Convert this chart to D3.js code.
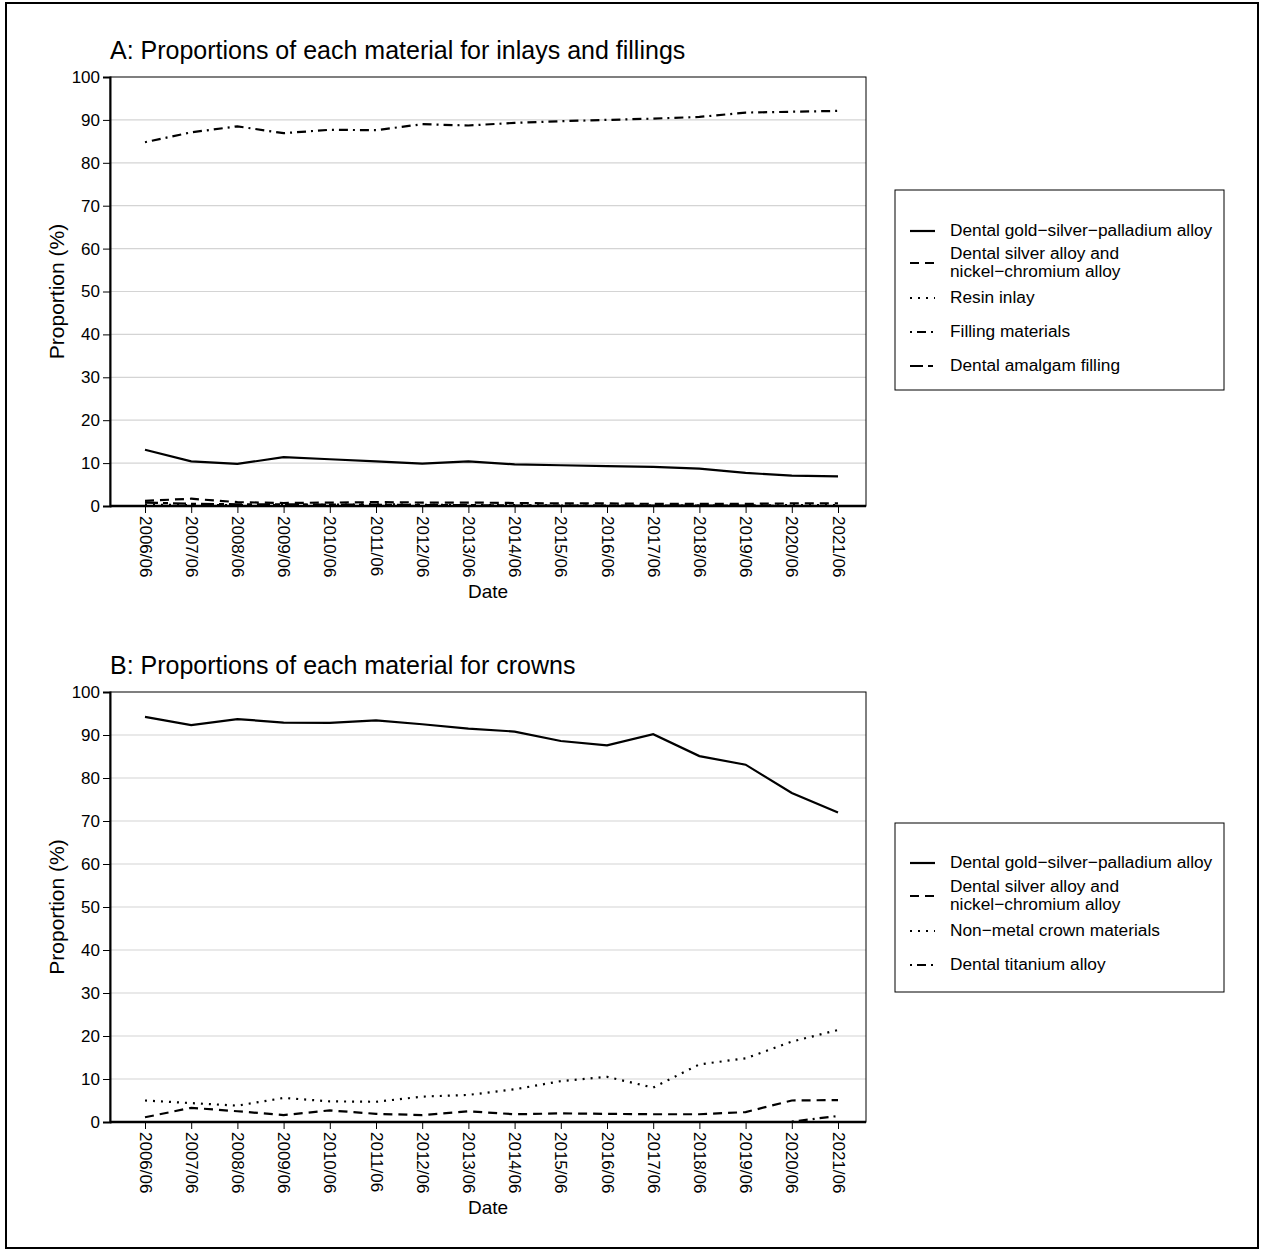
<!DOCTYPE html>
<html>
<head>
<meta charset="utf-8">
<script src="https://cdn.jsdelivr.net/npm/d3@7"></script>
<style>
  body { margin: 0; background: #fff; }
  svg { display: block; font-family: "Liberation Sans", Arial, Helvetica, sans-serif; }
</style>
</head>
<body>
<svg id="chart" width="1266" height="1255"></svg>
<script>
// tick labels
const dates = ["2006/06","2007/06","2008/06","2009/06","2010/06","2011/06","2012/06","2013/06",
               "2014/06","2015/06","2016/06","2017/06","2018/06","2019/06","2020/06","2021/06"];
const yTicks = [0,10,20,30,40,50,60,70,80,90,100];

// panel A: inlays and fillings (%)
const inlayGoldSilverPalladium = [13.1,10.4,9.8,11.4,10.9,10.4,9.9,10.4,9.7,9.5,9.3,9.1,8.7,7.7,7.1,6.9];
const inlaySilverNiCr         = [1.2,1.7,0.9,0.7,0.8,0.9,0.8,0.8,0.7,0.6,0.6,0.5,0.5,0.5,0.6,0.6];
const resinInlay              = [0.3,0.2,0.2,0.2,0.3,0.4,0.3,0.2,0.2,0.1,0.1,0.1,0.1,0.1,0.2,0.2];
const fillingMaterials        = [84.8,87.1,88.5,86.9,87.7,87.6,89.0,88.7,89.3,89.7,90.0,90.3,90.7,91.7,91.9,92.1];
const amalgamFilling          = [0.8,0.5,0.4,0.4,0.3,0.3,0.2,0.2,0.1,0.1,0.1,0.1,0.1,0.1,0.0,0.0];

// panel B: crowns (%)
const crownGoldSilverPalladium = [94.2,92.3,93.7,92.9,92.8,93.4,92.5,91.5,90.8,88.6,87.6,90.2,85.1,83.1,76.5,72.0];
const crownSilverNiCr          = [1.1,3.3,2.5,1.6,2.7,1.9,1.6,2.5,1.8,2.0,1.9,1.8,1.8,2.3,5.0,5.1];
const nonMetalCrown            = [5.0,4.4,3.8,5.6,4.8,4.7,5.9,6.3,7.6,9.5,10.5,8.0,13.4,14.8,18.7,21.4];
const titaniumAlloy            = [null,null,null,null,null,null,null,null,null,null,null,null,null,null,0.1,1.4];

const seriesA = [
  {name: "Dental gold\u2212silver\u2212palladium alloy", values: inlayGoldSilverPalladium, style: "solid"},
  {name: "Dental silver alloy and\nnickel\u2212chromium alloy", values: inlaySilverNiCr, style: "dashed"},
  {name: "Resin inlay", values: resinInlay, style: "dotted"},
  {name: "Filling materials", values: fillingMaterials, style: "dotdash"},
  {name: "Dental amalgam filling", values: amalgamFilling, style: "longdash"}
];
const seriesB = [
  {name: "Dental gold\u2212silver\u2212palladium alloy", values: crownGoldSilverPalladium, style: "solid"},
  {name: "Dental silver alloy and\nnickel\u2212chromium alloy", values: crownSilverNiCr, style: "dashed"},
  {name: "Non\u2212metal crown materials", values: nonMetalCrown, style: "dotted"},
  {name: "Dental titanium alloy", values: titaniumAlloy, style: "dotdash"}
];

const dashes = {
  solid: null,
  dashed: "9,6",
  dotted: "2,6",
  dotdash: "2,5,9,5",
  longdash: "13,5,5,5"
};

const svg = d3.select("#chart");

// outer frame
svg.append("rect")
  .attr("x", 6).attr("y", 3)
  .attr("width", 1252).attr("height", 1245)
  .attr("fill", "none").attr("stroke", "#000").attr("stroke-width", 2);

const panels = [
  {title: "A: Proportions of each material for inlays and fillings", series: seriesA,
   top: 77, bottom: 506, legendTop: 190, legendBottom: 390, rows: [230, 262, 297, 331, 365]},
  {title: "B: Proportions of each material for crowns", series: seriesB,
   top: 692, bottom: 1122, legendTop: 823, legendBottom: 992, rows: [862, 895, 930, 964]}
];

const left = 110, right = 866;

panels.forEach(p => {
  const g = svg.append("g");

  const x = d3.scalePoint().domain(dates).range([145, 838]);
  const y = d3.scaleLinear().domain([0, 100]).range([p.bottom, p.top]);

  // grid
  g.selectAll("line.grid")
    .data(yTicks.filter(t => t > 0 && t < 100))
    .join("line")
    .attr("x1", left).attr("x2", right)
    .attr("y1", d => y(d)).attr("y2", d => y(d))
    .attr("stroke", "#d4d4d4").attr("stroke-width", 1.2);

  // frame
  g.append("rect")
    .attr("x", left).attr("y", p.top)
    .attr("width", right - left).attr("height", p.bottom - p.top)
    .attr("fill", "none").attr("stroke", "#000").attr("stroke-width", 1);

  // y axis
  const yAxis = g.append("g")
    .attr("transform", "translate(" + left + ",0)")
    .call(d3.axisLeft(y).tickValues(yTicks).tickSize(7).tickPadding(3));
  yAxis.select(".domain").attr("stroke-width", 2);
  yAxis.selectAll("text").style("font-size", "17px").attr("fill", "#000");

  // x axis
  const xAxis = g.append("g")
    .attr("transform", "translate(0," + p.bottom + ")")
    .call(d3.axisBottom(x).tickSize(7).tickSizeOuter(0));
  xAxis.select(".domain").attr("d", "M" + left + ",0H" + right).attr("stroke-width", 2.5);
  xAxis.selectAll("text")
    .style("font-size", "17px").attr("fill", "#000")
    .attr("text-anchor", "start")
    .attr("dy", "0.35em")
    .attr("transform", "translate(0,2) rotate(90)")
    .attr("x", 8).attr("y", 0);

  // lines
  const line = d3.line()
    .defined(d => d != null)
    .x((d, i) => x(dates[i]))
    .y(d => y(d));

  g.selectAll("path.series")
    .data(p.series)
    .join("path")
    .attr("d", s => line(s.values))
    .attr("fill", "none")
    .attr("stroke", "#000")
    .attr("stroke-width", 2.2)
    .attr("stroke-dasharray", s => dashes[s.style]);

  // labels
  g.append("text")
    .attr("x", left).attr("y", p.top - 18)
    .style("font-size", "25px")
    .text(p.title);

  g.append("text")
    .attr("x", (left + right) / 2).attr("y", p.bottom + 92)
    .attr("text-anchor", "middle")
    .style("font-size", "19px")
    .text("Date");

  g.append("text")
    .attr("transform", "translate(64," + ((p.top + p.bottom) / 2) + ") rotate(-90)")
    .attr("text-anchor", "middle")
    .style("font-size", "21px")
    .text("Proportion (%)");

  // legend
  g.append("rect")
    .attr("x", 895).attr("y", p.legendTop)
    .attr("width", 329).attr("height", p.legendBottom - p.legendTop)
    .attr("fill", "#fff").attr("stroke", "#000").attr("stroke-width", 1);

  p.series.forEach((s, i) => {
    const cy = p.rows[i];
    g.append("line")
      .attr("x1", 910).attr("x2", 935)
      .attr("y1", cy + 1).attr("y2", cy + 1)
      .attr("stroke", "#000").attr("stroke-width", 2.2)
      .attr("stroke-dasharray", dashes[s.style]);
    const lines = s.name.split("\n");
    const t = g.append("text")
      .attr("x", 950).attr("y", cy)
      .style("font-size", "17.3px");
    lines.forEach((ln, j) => {
      t.append("tspan")
        .attr("x", 950)
        .attr("y", cy + 6 + (j - (lines.length - 1) / 2) * 18)
        .text(ln);
    });
  });
});
</script>
</body>
</html>
